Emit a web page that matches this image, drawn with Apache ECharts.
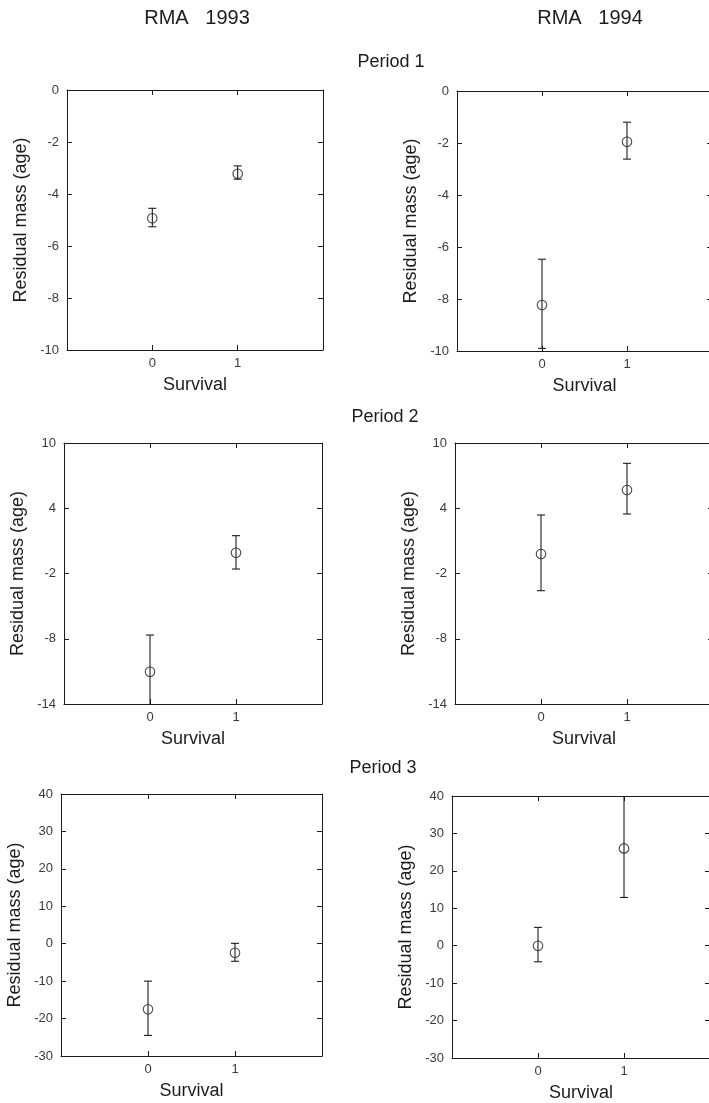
<!DOCTYPE html>
<html>
<head>
<meta charset="utf-8">
<script src="https://cdn.jsdelivr.net/npm/echarts@6/dist/echarts.min.js"></script>
<style>
  html, body { margin: 0; padding: 0; background: #ffffff; }
  #chart { width: 709px; height: 1103px; }
</style>
</head>
<body>
<div id="chart"></div>
<script>
// Survival groups on the x axis (0 = died, 1 = survived)
const survival = [0, 1];
const xTicks = [0, 1];

// Column headings and period headings
const yearTitles = ['RMA   1993', 'RMA   1994'];
const periodTitles = ['Period 1', 'Period 2', 'Period 3'];

// Y tick values for each period
const yTicksP1 = [-10, -8, -6, -4, -2, 0];
const yTicksP2 = [-14, -8, -2, 4, 10];
const yTicksP3 = [-30, -20, -10, 0, 10, 20, 30, 40];

// Residual mass means with lower / upper error limits
const p1y93Mean = [-4.93, -3.22];
const p1y93Low  = [-5.26, -3.43];
const p1y93High = [-4.55, -2.92];

const p1y94Mean = [-8.23, -1.95];
const p1y94Low  = [-9.9, -2.62];
const p1y94High = [-6.47, -1.2];

const p2y93Mean = [-11.03, -0.09];
const p2y93Low  = [-14.4, -1.59];
const p2y93High = [-7.66, 1.48];

const p2y94Mean = [-0.2, 5.68];
const p2y94Low  = [-3.58, 3.47];
const p2y94High = [3.38, 8.13];

const p3y93Mean = [-17.5, -2.4];
const p3y93Low  = [-24.5, -4.7];
const p3y93High = [-10.0, 0.1];

const p3y94Mean = [0.0, 26.0];
const p3y94Low  = [-4.3, 12.9];
const p3y94High = [4.9, 41.0];

// One entry per small plot: data references plus its frame on the page
const panels = [
  { mean: p1y93Mean, low: p1y93Low, high: p1y93High, ticks: yTicksP1, grid: { left: 67,  top: 90,  width: 256, height: 260 } },
  { mean: p1y94Mean, low: p1y94Low, high: p1y94High, ticks: yTicksP1, grid: { left: 457, top: 91,  width: 255, height: 260 } },
  { mean: p2y93Mean, low: p2y93Low, high: p2y93High, ticks: yTicksP2, grid: { left: 64,  top: 443, width: 258, height: 261 } },
  { mean: p2y94Mean, low: p2y94Low, high: p2y94High, ticks: yTicksP2, grid: { left: 455, top: 443, width: 258, height: 261 } },
  { mean: p3y93Mean, low: p3y93Low, high: p3y93High, ticks: yTicksP3, grid: { left: 61,  top: 794, width: 261, height: 262 } },
  { mean: p3y94Mean, low: p3y94Low, high: p3y94High, ticks: yTicksP3, grid: { left: 452, top: 796, width: 258, height: 262 } }
];

const FONT = '"Liberation Sans", Arial, Helvetica, sans-serif';
const INK = '#1c1c1c';
const LABEL_INK = '#3a3a3a';

const grids = [], xAxes = [], yAxes = [], series = [];

panels.forEach((p, i) => {
  const yMin = p.ticks[0];
  const yMax = p.ticks[p.ticks.length - 1];
  grids.push(Object.assign({ outerBoundsMode: 'none', containLabel: false }, p.grid));

  const lineStyle = { color: INK, width: 1 };
  const xBase = {
    type: 'value', gridIndex: i, min: -1, max: 2,
    axisLine: { show: true, onZero: false, lineStyle },
    axisTick: { show: true, inside: true, length: 5, lineStyle, customValues: xTicks },
    splitLine: { show: false }
  };
  // bottom axis with labels and title
  xAxes.push(Object.assign({}, xBase, {
    position: 'bottom',
    axisLabel: { show: true, customValues: xTicks, margin: 7, color: LABEL_INK, fontFamily: FONT, fontSize: 13 },
    name: 'Survival', nameLocation: 'middle', nameGap: 26, nameMoveOverlap: false,
    nameTextStyle: { color: INK, fontFamily: FONT, fontSize: 18 }
  }));
  // top frame edge with ticks only
  xAxes.push(Object.assign({}, xBase, { position: 'top', axisLabel: { show: false } }));

  const yBase = {
    type: 'value', gridIndex: i, min: yMin, max: yMax,
    axisLine: { show: true, onZero: false, lineStyle },
    axisTick: { show: true, inside: true, length: 5, lineStyle, customValues: p.ticks },
    splitLine: { show: false }
  };
  // left axis with labels and title
  yAxes.push(Object.assign({}, yBase, {
    position: 'left',
    axisLabel: { show: true, customValues: p.ticks, margin: 8, color: LABEL_INK, fontFamily: FONT, fontSize: 13 },
    name: 'Residual mass (age)', nameLocation: 'middle', nameGap: 37, nameRotate: 90, nameMoveOverlap: false,
    nameTextStyle: { color: INK, fontFamily: FONT, fontSize: 18 }
  }));
  // right frame edge with ticks only
  yAxes.push(Object.assign({}, yBase, { position: 'right', axisLabel: { show: false } }));

  const xIdx = i * 2, yIdx = i * 2;

  // error bars, clipped to the plotting range
  series.push({
    type: 'custom',
    xAxisIndex: xIdx, yAxisIndex: yIdx,
    silent: true,
    data: survival.map((s, k) => [s, p.low[k], p.high[k]]),
    encode: { x: 0, y: [1, 2] },
    renderItem: function (params, api) {
      const x = api.value(0), lo = api.value(1), hi = api.value(2);
      const loC = Math.max(lo, yMin), hiC = Math.min(hi, yMax);
      const a = api.coord([x, loC]);
      const b = api.coord([x, hiC]);
      const cap = 4;
      const style = { stroke: INK, lineWidth: 1.1 };
      const children = [
        { type: 'line', shape: { x1: a[0], y1: a[1], x2: b[0], y2: b[1] }, style }
      ];
      if (lo >= yMin) children.push({ type: 'line', shape: { x1: a[0] - cap, y1: a[1], x2: a[0] + cap, y2: a[1] }, style });
      if (hi <= yMax) children.push({ type: 'line', shape: { x1: b[0] - cap, y1: b[1], x2: b[0] + cap, y2: b[1] }, style });
      return { type: 'group', children };
    }
  });

  // open circles at the means
  series.push({
    type: 'scatter',
    xAxisIndex: xIdx, yAxisIndex: yIdx,
    silent: true,
    symbol: 'circle', symbolSize: 9.5,
    itemStyle: { color: 'rgba(0,0,0,0)', borderColor: INK, borderWidth: 1.1 },
    emphasis: { disabled: true },
    data: survival.map((s, k) => [s, p.mean[k]])
  });
});

// headings
const headStyle = { fill: INK, fontFamily: FONT, textAlign: 'center', textVerticalAlign: 'middle' };
const graphic = [
  { type: 'text', x: 197, y: 18, style: Object.assign({ text: yearTitles[0], fontSize: 20 }, headStyle) },
  { type: 'text', x: 590, y: 18, style: Object.assign({ text: yearTitles[1], fontSize: 20 }, headStyle) },
  { type: 'text', x: 391, y: 62, style: Object.assign({ text: periodTitles[0], fontSize: 18 }, headStyle) },
  { type: 'text', x: 385, y: 417, style: Object.assign({ text: periodTitles[1], fontSize: 18 }, headStyle) },
  { type: 'text', x: 383, y: 768, style: Object.assign({ text: periodTitles[2], fontSize: 18 }, headStyle) }
];

const chart = echarts.init(document.getElementById('chart'), null, { renderer: 'canvas' });
chart.setOption({
  backgroundColor: '#ffffff',
  animation: false,
  grid: grids,
  xAxis: xAxes,
  yAxis: yAxes,
  series: series,
  graphic: graphic
});
</script>
</body>
</html>
